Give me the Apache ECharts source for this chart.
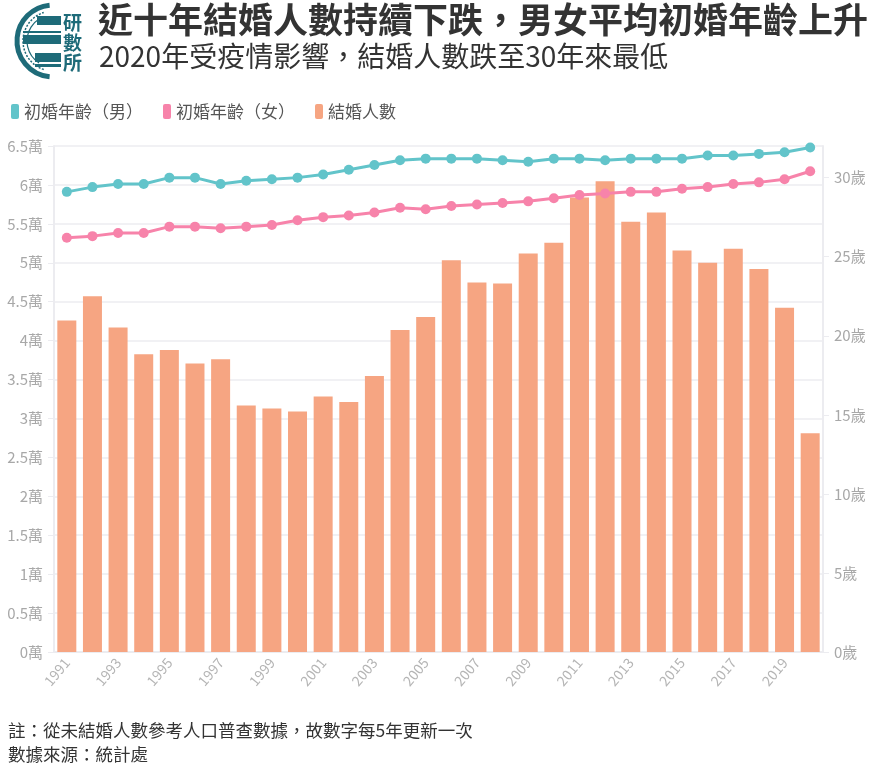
<!DOCTYPE html>
<html><head><meta charset="utf-8">
<script src="https://cdn.jsdelivr.net/npm/echarts@6/dist/echarts.min.js"></script>
<style>html,body{margin:0;padding:0;background:#fff}#c{width:894px;height:784px}</style>
</head><body><div id="c"></div>
<script>
const years = ['1991','1992','1993','1994','1995','1996','1997','1998','1999','2000','2001','2002','2003','2004','2005','2006','2007','2008','2009','2010','2011','2012','2013','2014','2015','2016','2017','2018','2019','2020'];
const marriages = [42568,45702,41681,38264,38786,37045,37593,31673,31287,30879,32825,32102,35439,41377,43018,50328,47453,47331,51175,52558,58369,60459,55274,56454,51584,50008,51805,49207,44219,28106];
const ageMale = [29.1,29.4,29.6,29.6,30.0,30.0,29.6,29.8,29.9,30.0,30.2,30.5,30.8,31.1,31.2,31.2,31.2,31.1,31.0,31.2,31.2,31.1,31.2,31.2,31.2,31.4,31.4,31.5,31.6,31.9];
const ageFemale = [26.2,26.3,26.5,26.5,26.9,26.9,26.8,26.9,27.0,27.3,27.5,27.6,27.8,28.1,28.0,28.2,28.3,28.4,28.5,28.7,28.9,29.0,29.1,29.1,29.3,29.4,29.6,29.7,29.9,30.4];
const leftTicks = {min:0, max:65000, interval:5000};
const rightTicks = {min:0, max:32, interval:5};

const FONT = '"Noto Sans CJK TC","Noto Sans CJK SC",sans-serif';
const LOGO = '#1e6b79';
const chart = echarts.init(document.getElementById('c'));
chart.setOption({
  backgroundColor:'#fff',
  textStyle:{fontFamily:FONT},
  title:[
    {text:'近十年結婚人數持續下跌，男女平均初婚年齡上升', left:93, top:-3,
     textStyle:{fontFamily:FONT, fontSize:35, fontWeight:'bold', color:'#333'}},
    {text:'2020年受疫情影響，結婚人數跌至30年來最低', left:94, top:37,
     textStyle:{fontFamily:FONT, fontSize:28, fontWeight:'normal', color:'#333'}}
  ],
  legend:{left:6, top:98, icon:'roundRect', itemWidth:8, itemHeight:15, itemGap:20,
    textStyle:{fontFamily:FONT, fontSize:17, color:'#555'},
    data:['初婚年齡（男）','初婚年齡（女）','結婚人數']},
  grid:{left:54, right:71, top:146, bottom:132, containLabel:false},
  xAxis:{type:'category', data:years, boundaryGap:true,
    axisLine:{lineStyle:{color:'#ececf0', width:2}},
    axisTick:{alignWithLabel:true, interval:0, length:6, lineStyle:{color:'#ececf0'}},
    axisLabel:{interval:1, rotate:50, color:'#b5b5b5', fontSize:14, margin:8, fontFamily:FONT}},
  yAxis:[
    {type:'value', min:leftTicks.min, max:leftTicks.max, interval:leftTicks.interval,
     axisLine:{show:true, lineStyle:{color:'#ececf0', width:2}},
     axisTick:{show:true, length:6, lineStyle:{color:'#ececf0'}},
     splitLine:{lineStyle:{color:'#ececf0', width:1.5}},
     axisLabel:{color:'#a8a8a8', fontSize:15, margin:11, fontFamily:FONT,
       formatter:v=>(v/10000)+'萬'}},
    {type:'value', min:rightTicks.min, max:rightTicks.max, interval:rightTicks.interval, position:'right',
     axisLine:{show:true, lineStyle:{color:'#ececf0', width:2}},
     axisTick:{show:true, length:6, lineStyle:{color:'#ececf0'}},
     splitLine:{show:false},
     axisLabel:{color:'#a8a8a8', fontSize:15, margin:11, showMaxLabel:false, fontFamily:FONT,
       formatter:v=>(v%5===0? v+'歲':'')}}
  ],
  series:[
    {name:'初婚年齡（男）', type:'line', yAxisIndex:1, data:ageMale, z:3,
     symbol:'circle', symbolSize:10, itemStyle:{color:'#62c4ca'}, lineStyle:{width:3, color:'#62c4ca'}},
    {name:'初婚年齡（女）', type:'line', yAxisIndex:1, data:ageFemale, z:3,
     symbol:'circle', symbolSize:10, itemStyle:{color:'#f783aa'}, lineStyle:{width:3, color:'#f783aa'}},
    {name:'結婚人數', type:'bar', yAxisIndex:0, data:marriages, barWidth:19, z:2,
     itemStyle:{color:'#f6a582'}}
  ],
  graphic:[
    {type:'group', x:0, y:0, children:[
      {type:'arc', shape:{cx:53, cy:41, r:36, startAngle:Math.PI*0.53, endAngle:Math.PI*1.47},
       style:{stroke:LOGO, lineWidth:5, fill:null}},
      {type:'arc', shape:{cx:53, cy:41, r:30, startAngle:Math.PI*0.6, endAngle:Math.PI*1.4},
       style:{stroke:LOGO, lineWidth:1.5, fill:null, lineDash:[2,1.5]}},
      {type:'arc', shape:{cx:53, cy:41, r:26, startAngle:Math.PI*0.68, endAngle:Math.PI*1.32},
       style:{stroke:LOGO, lineWidth:1.2, fill:null}},
      {type:'rect', shape:{x:37, y:16, width:24, height:9}, style:{fill:LOGO}},
      {type:'rect', shape:{x:23, y:31, width:38, height:2}, style:{fill:LOGO}},
      {type:'rect', shape:{x:23, y:35, width:38, height:9}, style:{fill:LOGO}},
      {type:'rect', shape:{x:35, y:53, width:26, height:9}, style:{fill:LOGO}},
      {type:'rect', shape:{x:35, y:64, width:26, height:3}, style:{fill:LOGO}},
      {type:'text', x:63, y:13, style:{text:'研', fontSize:19, fontWeight:'bold', fill:LOGO, fontFamily:FONT}},
      {type:'text', x:63, y:33, style:{text:'數', fontSize:19, fontWeight:'bold', fill:LOGO, fontFamily:FONT}},
      {type:'text', x:63, y:53, style:{text:'所', fontSize:19, fontWeight:'bold', fill:LOGO, fontFamily:FONT}}
    ]},
    {type:'text', left:8, top:722, style:{text:'註：從未結婚人數參考人口普查數據，故數字每5年更新一次', fontSize:17.5, fill:'#333', fontFamily:FONT}},
    {type:'text', left:8, top:746, style:{text:'數據來源：統計處', fontSize:17.5, fill:'#333', fontFamily:FONT}}
  ]
});
</script></body></html>
